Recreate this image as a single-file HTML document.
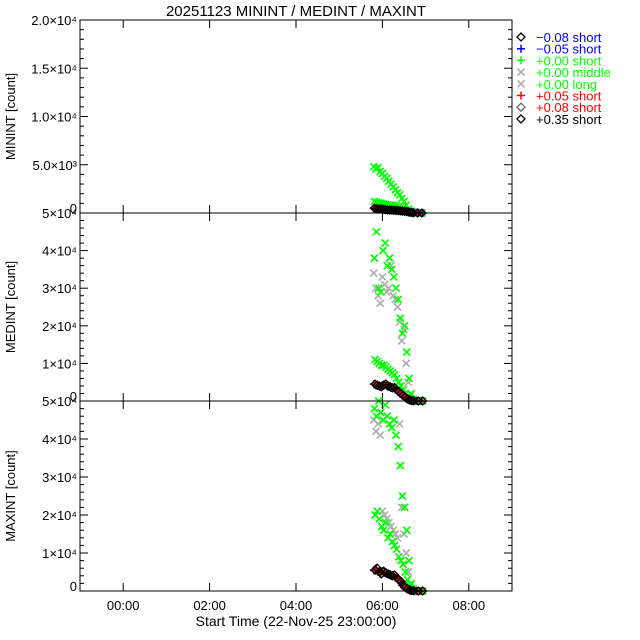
<!DOCTYPE html>
<html><head><meta charset="utf-8"><style>
body{margin:0;background:#fff}
svg{display:block;font-family:"Liberation Sans","DejaVu Sans",sans-serif}
</style></head><body>
<svg id="chart" width="640" height="640" viewBox="0 0 640 640" xmlns="http://www.w3.org/2000/svg">
<rect width="640" height="640" fill="#fff"/>
<text x="296" y="16" font-size="15" text-anchor="middle">20251123 MININT / MEDINT / MAXINT</text>
<text x="296" y="626" font-size="14" text-anchor="middle">Start Time (22-Nov-25 23:00:00)</text>
<g id="plots"></g>
<g id="legend"></g>
</svg>
<script>
const xTicks=[0,2,4,6,8];
const xTickLabels=["00:00","02:00","04:00","06:00","08:00"];
const times=[5.80,5.85,5.90,5.95,6.00,6.05,6.10,6.15,6.20,6.25,6.30,6.35,6.40,6.45,6.50,6.55,6.60,6.65,6.70,6.80,6.90];
// panel 1 (MININT)
const p1GreenHigh=[4800,4600,4700,4300,4100,3800,3600,3300,3000,2700,2400,2100,1900,1500,1200,800,400,200,100,50,0];
const p1GreenLow=[1200,1100,1050,1000,950,900,850,800,800,750,700,600,500,400,300,200,100,50,20,0,0];
const p1Colored=[500,450,400,420,380,350,330,300,300,280,260,250,220,200,180,150,100,60,30,10,0];
// panel 2 (MEDINT)
const p2GreenHigh=[38000,45000,30000,29000,40000,42000,36000,38000,35000,33000,30000,27000,22000,18000,20000,13000,6000,2000,500,0,0];
const p2Gray=[34000,30000,28000,26000,33000,31000,29000,30000,36000,28000,27000,25000,21000,16000,19000,10000,5000,1500,300,0,0];
const p2GreenLow=[11000,10500,10000,9500,9500,9000,8500,8000,7500,7000,6000,5000,4000,3000,2000,1000,500,200,50,0,0];
const p2Colored=[4500,4200,4000,3800,4200,4500,4000,3800,3500,3600,3000,2500,2000,1500,1000,600,300,100,50,0,0];
// panel 3 (MAXINT)
const p3GreenHigh=[48000,46000,50000,47000,45000,49000,46000,44000,43000,45000,41000,38000,33000,25000,22000,16000,8000,2000,500,0,0];
const p3Gray=[45000,42000,44000,41000,21000,20000,19000,18000,17000,16000,15000,14000,44000,22000,15000,10000,5000,1500,300,0,0];
const p3GreenLow=[20000,21000,19000,17000,16000,18000,14000,15000,13000,12000,11000,9000,8000,7000,5000,3000,1500,500,100,0,0];
const p3Colored=[5500,6000,5000,4500,5200,4800,4500,4300,4000,4200,3500,3000,2500,1500,1000,600,300,100,50,0,0];

const X0=80,X1=512,TMIN=-1,TMAX=9;
function xs(t){return X0+(t-TMIN)/(TMAX-TMIN)*(X1-X0);}
const panels=[
 {name:"minint",top:20,bot:213,max:20000,ticks:[0,5000,10000,15000,20000],labels:["0","5.0×10³","1.0×10⁴","1.5×10⁴","2.0×10⁴"],minor:1000,title:"MININT [count]",
  series:[[p1GreenHigh,"x","#00ff00"],[p1GreenLow,"x","#00ff00"],[p1Colored,"+","#0000ff"],[p1Colored,"+","#ff0000"],[p1Colored,"d","#000"]]},
 {name:"medint",top:213,bot:401,max:50000,ticks:[0,10000,20000,30000,40000,50000],labels:["0","1×10⁴","2×10⁴","3×10⁴","4×10⁴","5×10⁴"],minor:2000,title:"MEDINT [count]",
  series:[[p2Gray,"x","#b0b0b0"],[p2GreenHigh,"x","#00ff00"],[p2GreenLow,"x","#00ff00"],[p2Colored,"+","#0000ff"],[p2Colored,"+","#ff0000"],[p2Colored,"d","#000"]]},
 {name:"maxint",top:401,bot:591,max:50000,ticks:[0,10000,20000,30000,40000,50000],labels:["0","1×10⁴","2×10⁴","3×10⁴","4×10⁴","5×10⁴"],minor:2000,title:"MAXINT [count]",
  series:[[p3Gray,"x","#b0b0b0"],[p3GreenHigh,"x","#00ff00"],[p3GreenLow,"x","#00ff00"],[p3Colored,"+","#0000ff"],[p3Colored,"+","#ff0000"],[p3Colored,"d","#000"]]}
];
const NS="http://www.w3.org/2000/svg";
const root=document.getElementById("plots");
function mk(tag,at,parent){const e=document.createElementNS(NS,tag);for(const k in at)e.setAttribute(k,at[k]);parent.appendChild(e);return e;}
function marker(g,type,x,y,c){
 let e;
 if(type==="x") e=mk("path",{d:`M${x-3.5},${y-3.5}L${x+3.5},${y+3.5}M${x-3.5},${y+3.5}L${x+3.5},${y-3.5}`,stroke:c,"stroke-width":1.7,fill:"none"},g);
 else if(type==="+") e=mk("path",{d:`M${x-4},${y}L${x+4},${y}M${x},${y-4}L${x},${y+4}`,stroke:c,"stroke-width":1.5,fill:"none"},g);
 else e=mk("path",{d:`M${x},${y-4}L${x+4},${y}L${x},${y+4}L${x-4},${y}Z`,stroke:c,"stroke-width":1.3,fill:"none"},g);
 return e;
}
panels.forEach(p=>{
 const g=mk("g",{},root);
 
 
 const ys=v=>p.bot-v/p.max*(p.bot-p.top);
 p.series.forEach(([vals,type,col],si)=>{
  const sg=mk("g",{},g);
  
  
  vals.forEach((v,i)=>{
   const off=(si%3)*0.015;
   const m=marker(sg,type,xs(times[i]+off),ys(v),col);
   
   
  });
 });
 const fr=mk("rect",{x:X0,y:p.top,width:X1-X0,height:p.bot-p.top,fill:"none",stroke:"#000","stroke-width":1},g);
 
 
 for(let v=0;v<=p.max;v+=p.minor){const y=ys(v);const big=p.ticks.includes(v);
  mk("line",{x1:X0,x2:X0+(big?8:4),y1:y,y2:y,stroke:"#000"},g);
  mk("line",{x1:X1,x2:X1-(big?8:4),y1:y,y2:y,stroke:"#000"},g);}
 p.ticks.forEach((v,i)=>{
  if(i===p.ticks.length-1 && p.name!=="minint"){
   const t=mk("text",{x:X0-3,y:p.top+5,"font-size":13,"text-anchor":"end"},g);t.textContent=p.labels[i];
   return;}
  const t=mk("text",{x:X0-3,y:ys(v)+(i===0?0:5),"font-size":13,"text-anchor":"end"},g);t.textContent=p.labels[i];
  
  
 });
 for(let h=-1;h<=9;h+=0.5){const x=xs(h);const big=Number.isInteger(h)&&h%2===0;
  mk("line",{x1:x,x2:x,y1:p.bot,y2:p.bot-(big?8:0),stroke:"#000"},g);
  mk("line",{x1:x,x2:x,y1:p.top,y2:p.top+(big?8:0),stroke:"#000"},g);}
 const yt=mk("text",{transform:`translate(15,${(p.top+p.bot)/2}) rotate(-90)`,"font-size":13,"text-anchor":"middle"},g);
 yt.textContent=p.title;
 
 
});
xTicks.forEach((h,i)=>{
 const t=mk("text",{x:xs(h),y:610,"font-size":13,"text-anchor":"middle"},root);
 t.textContent=xTickLabels[i];
 
 
});
const legendLabels=["−0.08 short","−0.05 short","+0.00 short","+0.00 middle","+0.00 long","+0.05 short","+0.08 short","+0.35 short"];
const legendMarkers=["d","+","+","x","x","+","d","d"];
const legendMarkerColors=["#000","#0000ff","#00ff00","#b0b0b0","#b0b0b0","#ff0000","#666","#000"];
const legendTextColors=["#0000ff","#0000ff","#00ff00","#00ff00","#00ff00","#ff0000","#ff0000","#000"];
const lg=document.getElementById("legend");
legendLabels.forEach((l,i)=>{
 const y=37+i*11.7;
 const m=marker(lg,legendMarkers[i],521,y,legendMarkerColors[i]);
 
 
 const t=mk("text",{x:536,y:y+5,"font-size":13,fill:legendTextColors[i]},lg);
 t.textContent=l;
 
 
});
</script>
</body></html>
